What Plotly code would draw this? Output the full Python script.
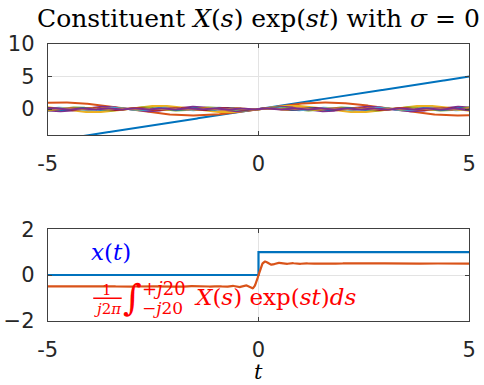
import numpy as np
import plotly.graph_objects as go

# ---- data ----
T_MIN, T_MAX = -5.0, 5.0
N_T = 1001
OMEGAS = [0, 1, 2, 3, 4, 5, 6, 7, 8, 9, 10]      # constituent frequencies (sigma = 0)
W_MAX = 20.0                                      # integration limit j20
STEP_LEVELS = [0.0, 1.0]                          # x(t) before / after t = 0
COLORS = ["#0072BD", "#D95319", "#EDB120", "#7E2F8E", "#77AC30", "#4DBEEE", "#A2142F"]
XTICKS = [-5, 0, 5]
YTICKS_TOP = [0, 5, 10]
YTICKS_BOT = [-2, 0, 2]

t = np.linspace(T_MIN, T_MAX, N_T)

fig = go.Figure()

# top panel: Re{X(jw) exp(jwt)} with X(s)=1/s  -> sin(wt)/w  (w->0 gives t)
for i, w in enumerate(OMEGAS):
    y = t.copy() if w == 0 else np.sin(w * t) / w
    fig.add_trace(go.Scatter(x=t, y=y, mode="lines", xaxis="x", yaxis="y",
                             line=dict(color=COLORS[i % len(COLORS)], width=2),
                             showlegend=False, hoverinfo="skip"))

# bottom panel: step and its band-limited reconstruction
t_step = np.array([T_MIN, 0.0, 0.0, T_MAX])
x_step = np.array([STEP_LEVELS[0], STEP_LEVELS[0], STEP_LEVELS[1], STEP_LEVELS[1]])
fig.add_trace(go.Scatter(x=t_step, y=x_step, mode="lines", xaxis="x2", yaxis="y2",
                         line=dict(color=COLORS[0], width=2.2),
                         showlegend=False, hoverinfo="skip"))

w = np.linspace(1e-6, W_MAX, 4001)
integrand = np.sin(np.outer(t, w)) / w
recon = np.trapezoid(integrand, w, axis=1) / np.pi
fig.add_trace(go.Scatter(x=t, y=recon, mode="lines", xaxis="x2", yaxis="y2",
                         line=dict(color=COLORS[1], width=2.2),
                         showlegend=False, hoverinfo="skip"))

W, H = 484, 385
def px_x(p):
    return p / W
def px_y(p):
    return (H - p) / H

axis_common = dict(
    showline=True, linecolor="#404040", linewidth=1, mirror="allticks",
    ticks="inside", ticklen=4, tickcolor="#404040", tickwidth=1,
    showgrid=True, gridcolor="#e3e3e3", gridwidth=1, zeroline=False,
    automargin=False,
    tickfont=dict(family="DejaVu Sans", size=21, color="#262626"),
)

dom_x = [px_x(47.7), px_x(469.3)]
fig.update_layout(
    width=W, height=H,
    margin=dict(l=0, r=0, t=0, b=0, autoexpand=False),
    paper_bgcolor="white", plot_bgcolor="white",
    xaxis=dict(domain=dom_x, anchor="y", range=[T_MIN, T_MAX], tickvals=XTICKS,
               ticktext=[str(v) for v in XTICKS], ticklabelstandoff=10, **axis_common),
    yaxis=dict(domain=[px_y(135), px_y(44)], anchor="x", range=[-4, 10],
               tickvals=YTICKS_TOP, ticklabelstandoff=8, **axis_common),
    xaxis2=dict(domain=dom_x, anchor="y2", range=[T_MIN, T_MAX], tickvals=XTICKS,
                ticktext=[str(v) for v in XTICKS], ticklabelstandoff=10, **axis_common),
    yaxis2=dict(domain=[px_y(320.7), px_y(229.3)], anchor="x2", range=[-2, 2],
                tickvals=YTICKS_BOT, ticklabelstandoff=8, **axis_common),
)

serif = "DejaVu Serif"
red = "#ff0000"
annos = [
    # title
    dict(text="Constituent <i>X</i>(<i>s</i>) exp(<i>st</i>) with <i>σ</i> = 0",
         xref="paper", yref="paper", x=px_x(258.5), y=px_y(18),
         xanchor="center", yanchor="middle",
         font=dict(family=serif, size=25, color="black")),
    # xlabel
    dict(text="<i>t</i>", xref="paper", yref="paper", x=px_x(258.5), y=px_y(372),
         xanchor="center", yanchor="middle", font=dict(family=serif, size=21, color="black")),
    # x(t) label
    dict(text="<i>x</i>(<i>t</i>)", xref="x2", yref="y2", x=-3.5, y=1.02,
         xanchor="center", yanchor="middle", font=dict(family=serif, size=23, color="#0000ff")),
    # integral label pieces
    dict(text="1", xref="x2", yref="y2", x=-3.60, y=-0.64,
         xanchor="center", yanchor="middle", font=dict(family=serif, size=15, color=red)),
    dict(text="<i>j</i>2<i>π</i>", xref="x2", yref="y2", x=-3.58, y=-1.50,
         xanchor="center", yanchor="middle", font=dict(family=serif, size=15, color=red)),
    dict(text="∫", xref="x2", yref="y2", x=-3.00, y=-1.0,
         xanchor="center", yanchor="middle", font=dict(family=serif, size=36, color=red)),
    dict(text="+<i>j</i>20", xref="x2", yref="y2", x=-2.82, y=-0.58,
         xanchor="left", yanchor="middle", font=dict(family=serif, size=18, color=red)),
    dict(text="−<i>j</i>20", xref="x2", yref="y2", x=-2.80, y=-1.44,
         xanchor="left", yanchor="middle", font=dict(family=serif, size=17, color=red)),
    dict(text="<i>X</i>(<i>s</i>) exp(<i>st</i>)<i>ds</i>", xref="x2", yref="y2", x=-1.57, y=-0.96,
         xanchor="left", yanchor="middle", font=dict(family=serif, size=23, color=red)),
]
for a in annos:
    a.setdefault("showarrow", False)
    fig.add_annotation(**a)

fig.add_shape(type="line", xref="x2", yref="y2", x0=-3.92, x1=-3.245, y0=-1.02, y1=-1.02,
              line=dict(color=red, width=1.5))

fig.write_html("out.html", config={"displayModeBar": False},
               post_script="document.body.style.margin='0';")
